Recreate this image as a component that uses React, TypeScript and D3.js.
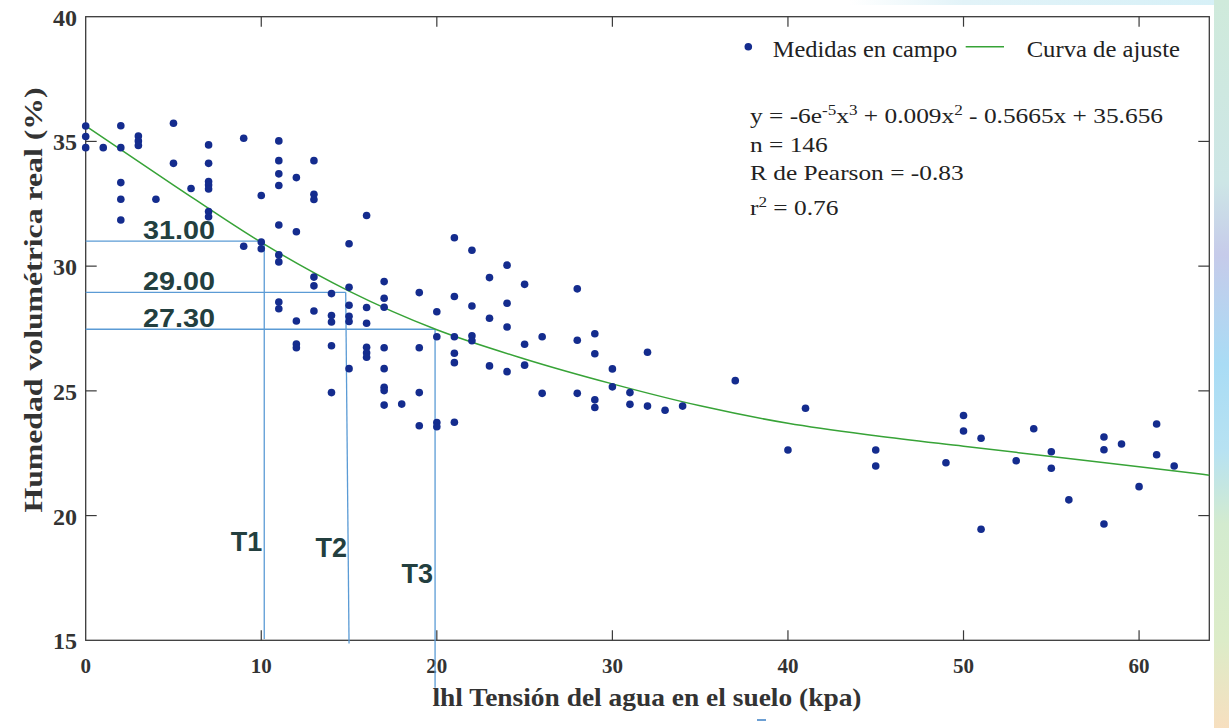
import React from "react";
import * as d3 from "d3";

// Measured field points (tension kPa, volumetric moisture %)
const tension: number[] = [
  0, 0, 0,
  1,
  2, 2, 2, 2, 2,
  3, 3, 3,
  4,
  5, 5,
  6,
  7, 7, 7, 7, 7, 7, 7,
  9, 9,
  10, 10, 10,
  11, 11, 11, 11, 11, 11, 11, 11, 11,
  12, 12, 12, 12, 12,
  13, 13, 13, 13, 13, 13,
  14, 14, 14, 14, 14,
  15, 15, 15, 15, 15, 15,
  16, 16, 16, 16, 16, 16,
  17, 17, 17, 17, 17, 17, 17, 17,
  18,
  19, 19, 19, 19,
  20, 20, 20, 20,
  21, 21, 21, 21, 21, 21,
  22, 22, 22, 22,
  23, 23, 23,
  24, 24, 24, 24,
  25, 25, 25,
  26, 26,
  28, 28, 28,
  29, 29, 29, 29,
  30, 30,
  31, 31,
  32, 32,
  33, 34, 37, 40, 41,
  45, 45, 49, 50, 50, 51, 51, 53, 54, 55, 55, 56,
  58, 58, 58, 59, 60, 61, 61, 62,
];

const humedad: number[] = [
  35.62, 35.2, 34.75,
  34.75,
  35.63, 34.75, 33.35, 32.68, 31.85,
  35.22, 35.02, 34.84,
  32.68,
  35.73, 34.12,
  33.11,
  34.86, 34.12, 33.39, 33.25, 33.09, 32.19, 31.98,
  35.13, 30.8,
  32.83, 30.97, 30.7,
  35.02, 34.23, 33.7, 33.23, 31.65, 30.45, 30.17, 28.56, 28.29,
  33.55, 31.38, 27.8, 26.88, 26.73,
  34.23, 32.88, 32.67, 29.56, 29.21, 28.2,
  28.9, 28.02, 27.76, 26.81, 24.93,
  30.9, 29.15, 28.43, 27.99, 27.78, 25.89,
  32.03, 28.34, 27.71, 26.75, 26.53, 26.35,
  29.38, 28.71, 28.35, 26.73, 25.89, 25.14, 25.01, 24.43,
  24.47,
  28.94, 26.73, 24.93, 23.6,
  28.17, 27.17, 23.73, 23.56,
  31.14, 28.78, 27.17, 26.51, 26.13, 23.74,
  30.64, 28.4, 27.21, 27.01,
  29.54, 27.91, 26.0,
  30.04, 28.51, 27.56, 25.77,
  29.27, 26.87, 26.03,
  27.17, 24.9,
  29.09, 27.03, 24.9,
  27.29, 26.49, 24.64, 24.33,
  25.88, 25.16,
  24.93, 24.46,
  26.55, 24.39,
  24.22, 24.39, 25.41, 22.63, 24.3,
  22.63, 21.99, 22.12, 24.01, 23.39, 23.1, 19.45, 22.2, 23.48, 22.56, 21.9, 20.63,
  23.15, 22.64, 19.66, 22.87, 21.16, 23.67, 22.44, 21.99,
];

// Fitted curve as drawn
const curveX: number[] = [0, 5, 10, 15, 20, 25, 30, 35, 40, 45, 50, 55, 60, 64];
const curveY: number[] = [35.62, 33.25, 30.95, 29.0, 27.45, 26.28, 25.28, 24.4, 23.7, 23.2, 22.78, 22.37, 21.96, 21.62];

// Threshold guide lines
const refLabels: string[] = ["31.00", "29.00", "27.30"];
const refLevel: number[] = [31.0, 28.95, 27.47];
const refTensionTop: number[] = [10.17, 14.81, 19.9];
const refTensionBottom: number[] = [10.17, 15.0, 19.9];
const refBottomLevel: number[] = [15.05, 14.87, 13.1];
const tLabels: string[] = ["T1", "T2", "T3"];

const xTicks: number[] = [0, 10, 20, 30, 40, 50, 60];
const yTicks: number[] = [15, 20, 25, 30, 35, 40];

const W = 1229;
const H = 728;
const L = 85.7, R = 1209.3, T = 16.7, B = 640.3;

const serif = "'Liberation Serif', 'Times New Roman', serif";
const sans = "'Liberation Sans', Arial, sans-serif";

export default function App() {
  const x = d3.scaleLinear().domain([0, 64]).range([L, R]);
  const y = d3.scaleLinear().domain([15, 40]).range([B, T]);

  const line = d3
    .line<number>()
    .x((_, i) => x(curveX[i]))
    .y((d) => y(d))
    .curve(d3.curveMonotoneX);

  const dotColor = "#142c8e";
  const refColor = "#5b9bd5";
  const labelColor = "#233f3f";
  const frame = "#3a3a3a";

  return (
    <div style={{ position: "absolute", left: 0, top: 0 }}>
      <svg width={W} height={H} style={{ display: "block", background: "#fff" }}>
        <defs>
          <linearGradient id="sideStrip" x1="0" y1="0" x2="0" y2="1">
            <stop offset="0" stopColor="#cfeadb" />
            <stop offset="0.25" stopColor="#cde6e6" />
            <stop offset="0.35" stopColor="#c6cbea" />
            <stop offset="0.5" stopColor="#a9dcf5" />
            <stop offset="0.62" stopColor="#b7e2f2" />
            <stop offset="0.72" stopColor="#d3ebcf" />
            <stop offset="0.88" stopColor="#dcecc8" />
            <stop offset="1" stopColor="#f7dfbf" />
          </linearGradient>
          <linearGradient id="topStrip" x1="0" y1="0" x2="1" y2="0">
            <stop offset="0" stopColor="#ffffff" />
            <stop offset="0.3" stopColor="#e2f3f8" />
            <stop offset="1" stopColor="#d6f0f7" />
          </linearGradient>
        </defs>

        {/* decorative background strips */}
        <rect x={850} y={0} width={W - 850} height={5} fill="url(#topStrip)" />
        <rect x={1214} y={0} width={W - 1214} height={H} fill="url(#sideStrip)" />

        {/* frame */}
        <rect x={L} y={T} width={R - L} height={B - T} fill="none" stroke={frame} strokeWidth={1.3} />

        {/* ticks (inward) */}
        {xTicks.filter((t) => t > 0).map((t) => (
          <g key={"xt" + t}>
            <line x1={x(t)} x2={x(t)} y1={B} y2={B - 10} stroke={frame} strokeWidth={1.2} />
            <line x1={x(t)} x2={x(t)} y1={T} y2={T + 10} stroke={frame} strokeWidth={1.2} />
          </g>
        ))}
        {yTicks.filter((t) => t > 15 && t < 40).map((t) => (
          <g key={"yt" + t}>
            <line x1={L} x2={L + 11} y1={y(t)} y2={y(t)} stroke={frame} strokeWidth={1.2} />
            <line x1={R} x2={R - 11} y1={y(t)} y2={y(t)} stroke={frame} strokeWidth={1.2} />
          </g>
        ))}

        {/* tick labels */}
        {xTicks.map((t) => (
          <text key={"xl" + t} x={x(t)} y={673} textAnchor="middle" fontFamily={serif} fontWeight="bold" fontSize={21} fill="#333">
            {t}
          </text>
        ))}
        {yTicks.map((t) => (
          <text key={"yl" + t} x={77} y={y(t) + 9} textAnchor="end" fontFamily={serif} fontWeight="bold" fontSize={24} fill="#333">
            {t}
          </text>
        ))}

        {/* axis titles */}
        <text x={647} y={706} textAnchor="middle" fontFamily={serif} fontWeight="bold" fontSize={25} fill="#333" textLength={429} lengthAdjust="spacingAndGlyphs">
          lhl Tensión del agua en el suelo (kpa)
        </text>
        <text transform="translate(41.5,300) rotate(-90)" textAnchor="middle" fontFamily={serif} fontWeight="bold" fontSize={26} fill="#333" textLength={425} lengthAdjust="spacingAndGlyphs">
          Humedad volumétrica real (%)
        </text>

        {/* reference lines */}
        {refLevel.map((lv, i) => (
          <g key={"ref" + i}>
            <line x1={x(0)} x2={x(refTensionTop[i])} y1={y(lv)} y2={y(lv)} stroke={refColor} strokeWidth={1.3} />
            <line x1={x(refTensionTop[i])} x2={x(refTensionBottom[i])} y1={y(lv)} y2={y(refBottomLevel[i])} stroke={refColor} strokeWidth={1.3} />
          </g>
        ))}
        <line x1={757} x2={766} y1={720} y2={720} stroke="#3b7fc4" strokeWidth={1.5} />

        {/* fitted curve */}
        <path d={line(curveY) || ""} fill="none" stroke="#37a337" strokeWidth={1.5} />

        {/* points */}
        {tension.map((t, i) => (
          <circle key={"p" + i} cx={x(t)} cy={y(humedad[i])} r={3.8} fill={dotColor} />
        ))}

        {/* reference labels */}
        {refLabels.map((s, i) => (
          <text key={"rl" + i} x={143} y={y(refLevel[i]) - 2} fontFamily={sans} fontWeight="bold" fontSize={26} fill={labelColor} textLength={72} lengthAdjust="spacingAndGlyphs">
            {s}
          </text>
        ))}
        {tLabels.map((s, i) => (
          <text key={"tl" + i} x={x(refTensionBottom[i]) - 2} y={[551, 557, 583][i]} textAnchor="end" fontFamily={sans} fontWeight="bold" fontSize={27} fill={labelColor}>
            {s}
          </text>
        ))}

        {/* legend */}
        <circle cx={748.3} cy={46.7} r={3.8} fill={dotColor} />
        <text x={772.7} y={56.7} fontFamily={serif} fontSize={24} fill="#222" textLength={184.6} lengthAdjust="spacingAndGlyphs">
          Medidas en campo
        </text>
        <line x1={965.7} x2={1004} y1={46.7} y2={46.7} stroke="#37a337" strokeWidth={1.5} />
        <text x={1026.7} y={56.7} fontFamily={serif} fontSize={24} fill="#222" textLength={153.3} lengthAdjust="spacingAndGlyphs">
          Curva de ajuste
        </text>

        {/* stats */}
        <g transform="translate(750,0) scale(1.18,1)" fontFamily={serif} fontSize={21.5} fill="#222">
          <text x={0} y={123.3}>
            y = -6e<tspan dy={-8} fontSize={14.5}>-5</tspan>
            <tspan dy={8}>x</tspan>
            <tspan dy={-8} fontSize={14.5}>3</tspan>
            <tspan dy={8}> + 0.009x</tspan>
            <tspan dy={-8} fontSize={14.5}>2</tspan>
            <tspan dy={8}> - 0.5665x + 35.656</tspan>
          </text>
          <text x={0} y={151.7}>n = 146</text>
          <text x={0} y={180}>R de Pearson = -0.83</text>
          <text x={0} y={215}>
            r<tspan dy={-8} fontSize={14.5}>2</tspan>
            <tspan dy={8}> = 0.76</tspan>
          </text>
        </g>
      </svg>
    </div>
  );
}
